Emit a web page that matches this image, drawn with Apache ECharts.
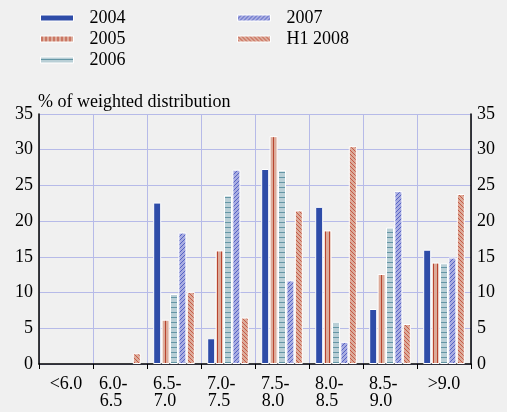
<!DOCTYPE html>
<html>
<head>
<meta charset="utf-8">
<script src="https://cdn.jsdelivr.net/npm/echarts@6/dist/echarts.min.js"></script>
<style>
  html, body { margin: 0; padding: 0; background: #f0f0f0; }
  #chart { width: 507px; height: 412px; }
</style>
</head>
<body>
<div id="chart"></div>
<script>
const categories = ['<6.0', '6.0-   \n6.5    ', '6.5-   \n7.0    ', '7.0-   \n7.5    ', '7.5-   \n8.0    ', '8.0-   \n8.5    ', '8.5-   \n9.0    ', '>9.0'];
const seriesNames = ['2004', '2005', '2006', '2007', 'H1 2008'];
const v2004 = [0, 0, 22.6, 3.6, 27.3, 22.0, 7.7, 16.0];
const v2005 = [0, 0, 6.2, 15.9, 31.9, 18.7, 12.6, 14.2];
const v2006 = [0, 0, 9.8, 23.6, 27.1, 5.9, 19.1, 14.1];
const v2007 = [0, 0, 18.4, 27.2, 11.7, 3.1, 24.2, 14.9];
const vH12008 = [0, 1.5, 10.1, 6.5, 21.5, 30.5, 5.6, 23.8];
const yTicks = [0, 5, 10, 15, 20, 25, 30, 35];

// hatch patterns drawn on small canvases
function makePattern(bg, line, kind) {
  const c = document.createElement('canvas');
  const size = kind === 'h' ? 5 : 4;
  c.width = size; c.height = size;
  const ctx = c.getContext('2d');
  ctx.fillStyle = bg;
  ctx.fillRect(0, 0, size, size);
  ctx.strokeStyle = line;
  ctx.lineWidth = 1;
  ctx.beginPath();
  if (kind === 'v') {
    ctx.moveTo(1.5, 0); ctx.lineTo(1.5, size);
  } else if (kind === 'h') {
    ctx.moveTo(0, 2.5); ctx.lineTo(size, 2.5);
  } else if (kind === 'f') {
    ctx.moveTo(0, size); ctx.lineTo(size, 0);
    ctx.moveTo(-1, 1); ctx.lineTo(1, -1);
    ctx.moveTo(size - 1, size + 1); ctx.lineTo(size + 1, size - 1);
  } else if (kind === 'b') {
    ctx.moveTo(0, 0); ctx.lineTo(size, size);
    ctx.moveTo(size - 1, -1); ctx.lineTo(size + 1, 1);
    ctx.moveTo(-1, size - 1); ctx.lineTo(1, size + 1);
  }
  ctx.stroke();
  return { image: c, repeat: 'repeat' };
}

const fills = [
  '#2e4ca8',
  makePattern('#dcab9a', '#b8442f', 'v'),
  makePattern('#b9cfd6', '#6496a5', 'h'),
  makePattern('#a9ade1', '#5663c4', 'f'),
  makePattern('#dcab9a', '#c55a46', 'b')
];
const values = [v2004, v2005, v2006, v2007, vH12008];

const font = 'Liberation Serif';
const chart = echarts.init(document.getElementById('chart'));

const legendBase = {
  orient: 'vertical',
  top: 4,
  itemWidth: 33,
  itemHeight: 6,
  itemGap: 3,
  icon: 'rect',
  itemStyle: { borderColor: '#fff', borderWidth: 1 },
  textStyle: { fontFamily: font, fontSize: 18, color: '#000', padding: [0, 0, 0, 11] }
};

const options = {
  backgroundColor: '#f0f0f0',
  animation: false,
  title: {
    text: '% of weighted distribution',
    left: 33,
    top: 88,
    textStyle: { fontFamily: font, fontSize: 18, fontWeight: 'normal', color: '#000' }
  },
  legend: [
    Object.assign({}, legendBase, { left: 35, data: seriesNames.slice(0, 3) }),
    Object.assign({}, legendBase, { left: 232, data: seriesNames.slice(3) })
  ],
  grid: { left: 39, right: 36, top: 114, bottom: 48 },
  xAxis: {
    type: 'category',
    data: categories,
    axisLine: { lineStyle: { color: '#000', width: 1.5 } },
    axisTick: { show: true, length: 5, lineStyle: { color: '#000' } },
    axisLabel: { fontFamily: font, fontSize: 18, color: '#000', margin: 12, lineHeight: 17, interval: 0 },
    splitLine: { show: true, lineStyle: { color: '#b6bae8', width: 1 } }
  },
  yAxis: [
    {
      type: 'value', min: 0, max: 35, interval: 5,
      axisLine: { show: true, lineStyle: { color: '#000', width: 1.5 } },
      axisTick: { show: false },
      axisLabel: { fontFamily: font, fontSize: 18, color: '#000', margin: 6,
        formatter: v => yTicks.includes(v) ? String(v) : '' },
      splitLine: { lineStyle: { color: '#b6bae8', width: 1 } }
    },
    {
      type: 'value', min: 0, max: 35, interval: 5, position: 'right',
      axisLine: { show: true, lineStyle: { color: '#000', width: 1.5 } },
      axisTick: { show: false },
      axisLabel: { fontFamily: font, fontSize: 18, color: '#000', margin: 6 },
      splitLine: { show: false }
    }
  ],
  series: seriesNames.map((name, i) => ({
    name: name,
    type: 'bar',
    // zero shares draw no bar at all in the source
    data: values[i].map(v => (v === 0 ? null : v)),
    barWidth: 8,
    barGap: '5%',
    itemStyle: { color: fills[i], borderColor: '#fff', borderWidth: 1 }
  }))
};
chart.setOption(options);
</script>
</body>
</html>
